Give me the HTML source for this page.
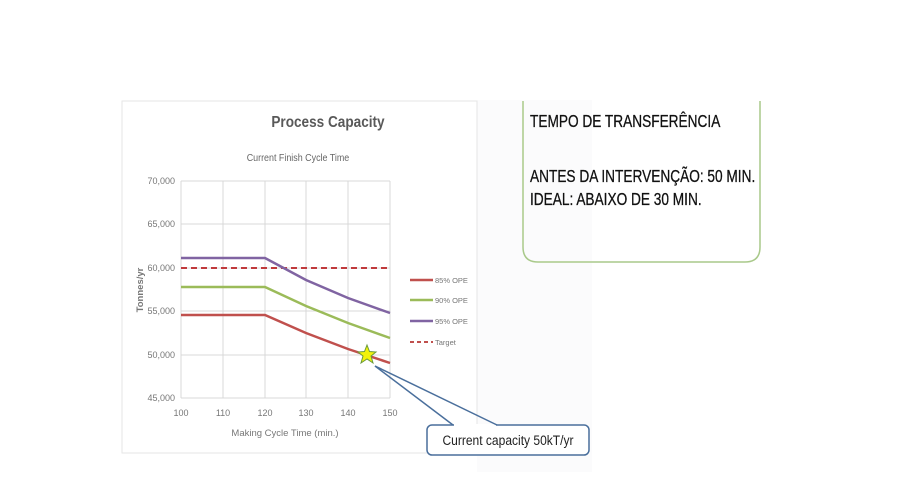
<!DOCTYPE html>
<html><head><meta charset="utf-8"><style>
body{margin:0;background:#fff;width:900px;height:500px;overflow:hidden;font-family:"Liberation Sans",sans-serif}
</style></head><body>
<svg width="900" height="500" xmlns="http://www.w3.org/2000/svg" style="position:absolute;left:0;top:0">
<rect x="477" y="100" width="115" height="372" fill="#fbfbfc"/>
<rect x="122" y="101" width="355" height="352" fill="#fff" stroke="#e6e6e6"/>
<text x="328" y="127" text-anchor="middle" font-size="16" font-weight="bold" fill="#595959" transform="translate(328 0) scale(0.85 1) translate(-328 0)">Process Capacity</text>
<text x="298" y="161" text-anchor="middle" font-size="10.5" fill="#666" transform="translate(298 0) scale(0.85 1) translate(-298 0)">Current Finish Cycle Time</text>
<g stroke="#d9d9d9" stroke-width="1">
<line x1="181" y1="181" x2="390" y2="181"/><line x1="181" y1="224" x2="390" y2="224"/>
<line x1="181" y1="268" x2="390" y2="268"/><line x1="181" y1="311" x2="390" y2="311"/>
<line x1="181" y1="355" x2="390" y2="355"/><line x1="181" y1="398" x2="390" y2="398"/>
<line x1="181" y1="181" x2="181" y2="398"/><line x1="223" y1="181" x2="223" y2="398"/>
<line x1="265" y1="181" x2="265" y2="398"/><line x1="306" y1="181" x2="306" y2="398"/>
<line x1="348" y1="181" x2="348" y2="398"/><line x1="390" y1="181" x2="390" y2="398"/>
</g>
<g font-size="9" fill="#777" text-anchor="end">
<text x="175" y="184">70,000</text><text x="175" y="227">65,000</text><text x="175" y="271">60,000</text>
<text x="175" y="314">55,000</text><text x="175" y="358">50,000</text><text x="175" y="401">45,000</text>
</g>
<g font-size="9" fill="#777" text-anchor="middle">
<text x="181" y="416">100</text><text x="223" y="416">110</text><text x="265" y="416">120</text>
<text x="306" y="416">130</text><text x="348" y="416">140</text><text x="390" y="416">150</text>
</g>
<text x="285" y="436" text-anchor="middle" font-size="9.5" fill="#777">Making Cycle Time (min.)</text>
<text transform="translate(143 290) rotate(-90)" text-anchor="middle" font-size="9.5" font-weight="bold" fill="#777">Tonnes/yr</text>
<line x1="181" y1="268" x2="390" y2="268" stroke="#c0393b" stroke-width="2" stroke-dasharray="6 4"/>
<polyline points="181,258 265,258 306,280 348,298 390,313" fill="none" stroke="#8064a2" stroke-width="2.5"/>
<polyline points="181,287 265,287 306,306 348,323 390,338" fill="none" stroke="#9bbb59" stroke-width="2.5"/>
<polyline points="181,315 265,315 306,333 348,349 390,363" fill="none" stroke="#c0504d" stroke-width="2.5"/>
<g font-size="7.5" fill="#777">
<line x1="410" y1="280" x2="433" y2="280" stroke="#c0504d" stroke-width="2.5"/><text x="435" y="283">85% OPE</text>
<line x1="410" y1="300" x2="433" y2="300" stroke="#9bbb59" stroke-width="2.5"/><text x="435" y="303">90% OPE</text>
<line x1="410" y1="321" x2="433" y2="321" stroke="#8064a2" stroke-width="2.5"/><text x="435" y="324">95% OPE</text>
<line x1="410" y1="342" x2="433" y2="342" stroke="#c0504d" stroke-width="2" stroke-dasharray="4 3"/><text x="435" y="345">Target</text>
</g>
<rect x="427" y="425" width="162" height="30" rx="5" fill="#fff" stroke="#4a6f9c" stroke-width="1.5"/>
<line x1="454" y1="425" x2="496" y2="425" stroke="#fff" stroke-width="2"/>
<line x1="375" y1="366" x2="453" y2="425" stroke="#4a6f9c" stroke-width="1.5"/>
<line x1="375" y1="366" x2="497" y2="425" stroke="#4a6f9c" stroke-width="1.5"/>
<text x="508" y="445" text-anchor="middle" font-size="14" fill="#222" transform="translate(508 0) scale(0.86 1) translate(-508 0)">Current capacity 50kT/yr</text>
<polygon points="367,345 369.5,351.5 376,352 371,356 373,363 367,359 361,363 363,356 358,352 364.5,351.5" fill="#f2f20a" stroke="#6a9a3a" stroke-width="1"/>
<path d="M523 101 V247 Q523 262 538 262 H745 Q760 262 760 247 V101" fill="none" stroke="#a9c98a" stroke-width="1.5"/>
<g font-size="18" fill="#111" stroke="#111" stroke-width="0.3" transform="translate(530 0) scale(0.76 1) translate(-530 0)">
<text x="530" y="127">TEMPO DE TRANSFERÊNCIA</text>
<text x="530" y="182">ANTES DA INTERVENÇÃO: 50 MIN.</text>
<text x="530" y="205">IDEAL: ABAIXO DE 30 MIN.</text>
</g>
</svg>
</body></html>
